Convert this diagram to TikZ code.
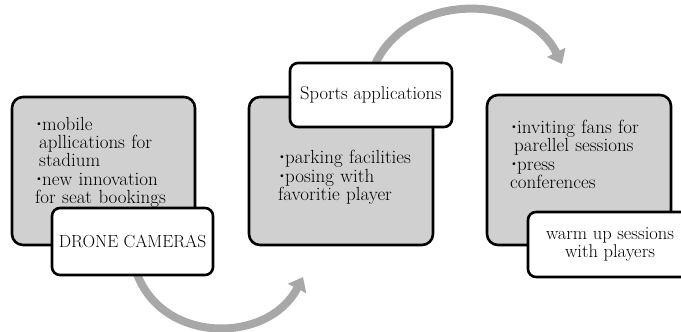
\documentclass[tikz,border=0pt]{standalone}
\usepackage{fontspec}
\usetikzlibrary{arrows.meta}

\definecolor{panelgray}{RGB}{208,208,208}
\definecolor{flowgray}{RGB}{168,168,168}

% small raised bullet followed by a hanging paragraph
\newcommand\bulletmark{\makebox[7pt][l]{\raisebox{0.4ex}{\fontsize{10}{10}\selectfont\textbullet}}}
\newcommand\bitem[1]{\par\noindent\hangindent=4pt\hangafter=1\bulletmark#1}

\tikzset{
  panel/.style={draw=black, line width=2.6pt, fill=panelgray, rounded corners=11pt},
  tag/.style={draw=black, line width=2.6pt, fill=white, rounded corners=8pt,
    align=center, font=\fontsize{18.5}{18}\selectfont},
  list/.style={anchor=north west, text width=160pt, align=left, inner sep=0pt,
    font=\fontsize{19}{18}\selectfont},
  flow/.style={draw=flowgray, line width=8pt,
    -{Triangle[length=13pt,width=20pt]}}
}

\begin{document}
\begin{tikzpicture}[x=1pt,y=-1pt]
  \useasboundingbox (0,0) rectangle (681,332);
  \clip (0,0) rectangle (681,332);

  % curved flow arrows, drawn first so the boxes cover their tails
  \coordinate (f1s) at (135,268);
  \coordinate (f1e) at (303,277);
  \coordinate (f2s) at (372,72);
  \coordinate (f2e) at (562,64);
  \draw[flow] (f1s) .. controls (158,345) and (268,345) .. (f1e);
  \draw[flow] (f2s) .. controls (400,-8) and (525,-10) .. (f2e);

  % grey panels
  \node[panel, minimum width=183pt, minimum height=148pt] (p1) at (103.5,171) {};
  \node[panel, minimum width=184pt, minimum height=148pt] (p2) at (341,171) {};
  \node[panel, minimum width=184pt, minimum height=150pt] (p3) at (579,170) {};

  % bullet lists
  \node[list] (l1) at (35,112) {\bitem{mobile\newline apllications for\newline stadium}
    \vspace{1pt}\bitem{new innovation\newline for seat bookings}};
  \node[list] (l2) at (278,145) {\bitem{parking facilities}
    \vspace{1pt}\bitem{posing with\newline favoritie player}};
  \node[list] (l3) at (510,115) {\bitem{inviting fans for\newline parellel sessions}
    \vspace{1pt}\bitem{press\newline conferences}};

  % white title tags
  \node[tag, font=\fontsize{17.5}{18}\selectfont, minimum width=161pt, minimum height=67pt] (t1) at (132.5,241.5) {DRONE CAMERAS};
  \node[tag, minimum width=162pt, minimum height=64pt] (t2) at (371,95) {Sports applications};
  \node[tag, minimum width=164pt, minimum height=65pt] (t3) at (610,244.5) {warm up sessions\\with players};
\end{tikzpicture}
\end{document}
